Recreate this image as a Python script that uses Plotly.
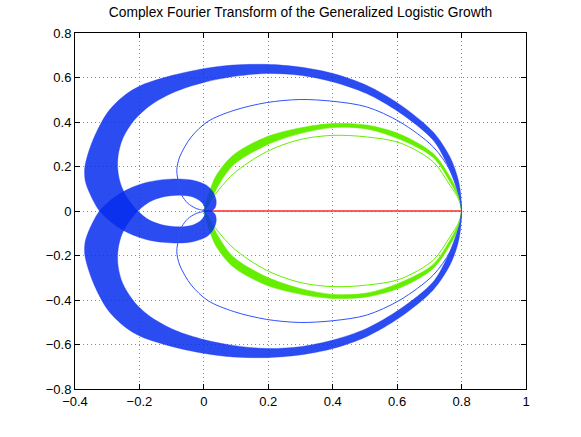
import plotly.graph_objects as go

# ---- data (upper-half traces; lower half is the complex conjugate) ----
# wide blue family: big arc (upper half) outer / inner edges, from (0.8,0) to the left crossing
arc_outer_x = [0.800, 0.797, 0.788, 0.764, 0.712, 0.609, 0.505, 0.401, 0.298, 0.194, 0.091, 0.013,
               -0.091, -0.194, -0.246, -0.298, -0.338, -0.360, -0.370, -0.368, -0.356, -0.341, -0.324]
arc_outer_y = [0.000, 0.080, 0.150, 0.243, 0.355, 0.478, 0.565, 0.618, 0.647, 0.659, 0.656, 0.643,
               0.612, 0.565, 0.520, 0.445, 0.340, 0.255, 0.191, 0.135, 0.085, 0.040, 0.000]
arc_inner_x = [0.800, 0.795, 0.780, 0.755, 0.712, 0.609, 0.505, 0.401, 0.298, 0.194, 0.091, 0.000,
               -0.091, -0.163, -0.215, -0.252, -0.266, -0.267, -0.258, -0.242, -0.225, -0.205]
arc_inner_y = [0.000, 0.050, 0.120, 0.210, 0.318, 0.441, 0.528, 0.580, 0.610, 0.618, 0.604, 0.578,
               0.535, 0.478, 0.410, 0.325, 0.250, 0.183, 0.120, 0.070, 0.035, 0.000]
# small loop (upper half) outer / inner edges, from the crossing to the origin
loop_outer_x = [-0.324, -0.283, -0.231, -0.179, -0.127, -0.075, -0.034, 0.008, 0.028, 0.038, 0.036, 0.024]
loop_outer_y = [0.000, 0.056, 0.101, 0.128, 0.141, 0.144, 0.138, 0.116, 0.086, 0.049, 0.018, 0.000]
loop_inner_x = [-0.205, -0.169, -0.127, -0.075, -0.034, -0.008, 0.003, 0.000]
loop_inner_y = [0.000, 0.041, 0.063, 0.071, 0.063, 0.041, 0.015, 0.000]

# single thin blue curve (upper half)
thin_blue_x = [0.800, 0.792, 0.764, 0.712, 0.609, 0.505, 0.401, 0.298, 0.194, 0.093, 0.013,
               -0.039, -0.075, -0.084, -0.078, -0.068, -0.050, -0.025, 0.000]
thin_blue_y = [0.000, 0.079, 0.183, 0.288, 0.400, 0.468, 0.493, 0.501, 0.487, 0.452, 0.403,
               0.333, 0.243, 0.183, 0.123, 0.070, 0.035, 0.012, 0.000]

# green family (upper half): outer / inner edges of the thick band, and the thin curve
green_outer_x = [0.800, 0.790, 0.764, 0.712, 0.609, 0.505, 0.401, 0.298, 0.194, 0.091, 0.039, 0.018, 0.006, 0.000]
green_outer_y = [0.000, 0.075, 0.153, 0.258, 0.345, 0.386, 0.393, 0.373, 0.333, 0.251, 0.161, 0.090, 0.035, 0.000]
green_inner_x = [0.800, 0.793, 0.764, 0.712, 0.609, 0.505, 0.401, 0.298, 0.194, 0.091, 0.045, 0.024, 0.010, 0.000]
green_inner_y = [0.000, 0.050, 0.131, 0.240, 0.322, 0.369, 0.375, 0.348, 0.296, 0.206, 0.115, 0.055, 0.018, 0.000]
green_thin_x = [0.800, 0.790, 0.764, 0.712, 0.609, 0.505, 0.401, 0.298, 0.194, 0.091, 0.029, 0.010, 0.000]
green_thin_y = [0.000, 0.055, 0.116, 0.221, 0.306, 0.333, 0.340, 0.321, 0.266, 0.166, 0.063, 0.020, 0.000]

# red (degenerate) case on the real axis
red_x = [0.0, 0.8]
red_y = [0.0, 0.0]

x_ticks = [-0.4, -0.2, 0, 0.2, 0.4, 0.6, 0.8, 1]
y_ticks = [-0.8, -0.6, -0.4, -0.2, 0, 0.2, 0.4, 0.6, 0.8]
title_text = "Complex Fourier Transform of the Generalized Logistic Growth"


def neg(v):
    return [-a for a in v]


def closed_loop(xs, ys):
    # upper half followed by its conjugate back to the start
    return xs + xs[::-1][1:], ys + neg(ys[::-1])[1:]


SPL = dict(shape="spline", smoothing=0.9)
fig = go.Figure()

# red line
fig.add_trace(go.Scatter(x=red_x, y=red_y, mode="lines",
                         line=dict(color="#ff2a2a", width=1.3), hoverinfo="skip"))

# green family
GREEN = "#66ee00"
gx = green_outer_x + green_inner_x[::-1][1:]
gy = green_outer_y + green_inner_y[::-1][1:]
for sgn in (1, -1):
    fig.add_trace(go.Scatter(x=gx, y=[sgn * v for v in gy], mode="lines", fill="toself",
                             fillcolor=GREEN, line=dict(color=GREEN, width=0.6, **SPL), hoverinfo="skip"))
tgx, tgy = closed_loop(green_thin_x, green_thin_y)
fig.add_trace(go.Scatter(x=tgx, y=tgy, mode="lines",
                         line=dict(color=GREEN, width=1, **SPL), hoverinfo="skip"))

# wide blue family: branch P = conj(big arc) + upper small loop ; branch Q = conj(P)
px = arc_outer_x + loop_outer_x[1:] + loop_inner_x[::-1] + arc_inner_x[::-1][1:]
py = neg(arc_outer_y) + loop_outer_y[1:] + loop_inner_y[::-1] + neg(arc_inner_y[::-1])[1:]
BAND = "rgba(6,45,238,0.85)"
for sgn in (1, -1):
    fig.add_trace(go.Scatter(x=px, y=[sgn * v for v in py], mode="lines", fill="toself",
                             fillcolor=BAND, line=dict(color="rgba(30,60,240,0.6)", width=0.6, **SPL),
                             hoverinfo="skip"))

# thin blue curve
tbx, tby = closed_loop(thin_blue_x, thin_blue_y)
fig.add_trace(go.Scatter(x=tbx, y=tby, mode="lines",
                         line=dict(color="#2f52ff", width=1, **SPL), hoverinfo="skip"))

FONT = "Liberation Sans, Arial, Helvetica, sans-serif"
axis_common = dict(
    showline=True, linecolor="black", linewidth=1, mirror="ticks",
    ticks="inside", ticklen=5, tickcolor="black",
    showgrid=True, gridcolor="#8c8c8c", gridwidth=1, griddash="1px,3px",
    zeroline=False, tickfont=dict(family=FONT, size=13, color="black"),
)


def labels(ts):
    return [("\u2212" if t < 0 else "") + f"{abs(t):g}" for t in ts]


fig.update_layout(
    width=581, height=437,
    margin=dict(l=75, r=55, t=33, b=48),
    paper_bgcolor="white", plot_bgcolor="white",
    showlegend=False,
    title=dict(text=title_text, x=0.5, xref="paper", xanchor="center",
               y=1 - 12 / 437, yref="container", yanchor="middle",
               font=dict(family=FONT, size=13.8, color="black")),
    xaxis=dict(range=[-0.4, 1], tickvals=x_ticks, ticktext=labels(x_ticks), **axis_common),
    yaxis=dict(range=[-0.8, 0.8], tickvals=y_ticks, ticktext=labels(y_ticks), **axis_common),
)

fig.write_html("out.html", config={"displayModeBar": False},
               post_script="document.body.style.margin='0';")
